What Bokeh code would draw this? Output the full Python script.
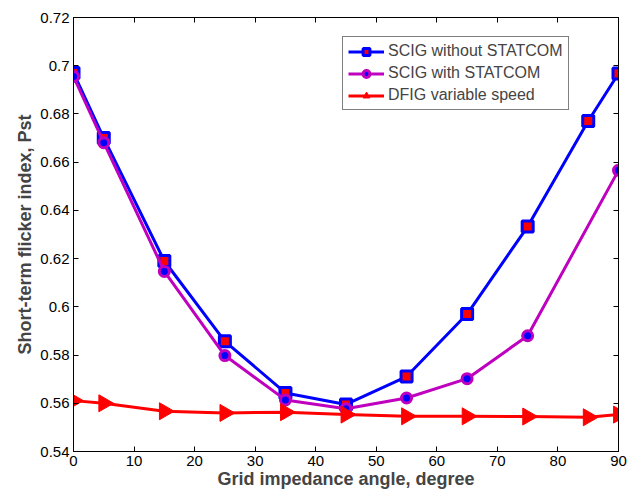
import math
from bokeh.plotting import figure
from bokeh.models import Range1d, FixedTicker, LinearAxis, Legend, LegendItem
from bokeh.embed import file_html
from bokeh.resources import INLINE

angle = [0, 5, 15, 25, 35, 45, 55, 65, 75, 85, 90]
scig_without = [0.697, 0.670, 0.619, 0.5857, 0.5643, 0.5595, 0.5711, 0.5970, 0.6333, 0.6771, 0.6968]
angle_with = [0, 5, 15, 25, 35, 45, 55, 65, 75, 90]
scig_with = [0.6955, 0.6681, 0.6147, 0.5798, 0.5614, 0.5577, 0.5622, 0.5702, 0.5880, 0.6566]
dfig = [0.5611, 0.5600, 0.5567, 0.5560, 0.5563, 0.5553, 0.5546, 0.5546, 0.5545, 0.5542, 0.5553]

x_ticks = [0, 10, 20, 30, 40, 50, 60, 70, 80, 90]
y_ticks = [0.54, 0.56, 0.58, 0.60, 0.62, 0.64, 0.66, 0.68, 0.70, 0.72]
y_labels = ["0.54", "0.56", "0.58", "0.6", "0.62", "0.64", "0.66", "0.68", "0.7", "0.72"]

FONT = "Liberation Sans"

p = figure(width=633, height=494, output_backend="svg", toolbar_location=None,
           x_range=Range1d(0, 90), y_range=Range1d(0.54, 0.72),
           min_border_left=73, min_border_right=15, min_border_top=17, min_border_bottom=43)
p.xgrid.visible = False
p.ygrid.visible = False
p.outline_line_color = "black"
p.outline_line_width = 1
p.background_fill_color = "white"
p.border_fill_color = "white"

def style_axis(ax, ticks, labels=True):
    ax.ticker = FixedTicker(ticks=ticks)
    ax.major_tick_in = 5
    ax.major_tick_out = 0
    ax.minor_tick_line_color = None
    ax.axis_line_color = "black"
    ax.major_tick_line_color = "black"
    ax.major_label_text_font = FONT
    ax.major_label_text_font_size = "15px"
    ax.major_label_text_color = "black" if labels else None
    ax.major_label_standoff = 4

xa = p.xaxis[0]
style_axis(xa, x_ticks)
xa.axis_label = "Grid impedance angle, degree"
xa.axis_label_text_font = FONT
xa.axis_label_text_font_style = "bold"
xa.axis_label_text_font_size = "18px"
xa.axis_label_standoff = 0
xa.major_label_standoff = 4

ya = p.yaxis[0]
style_axis(ya, y_ticks)
ya.major_label_overrides = {t: l for t, l in zip(y_ticks, y_labels)}
ya.axis_label = "Short-term flicker index, Pst"
ya.axis_label_text_font = FONT
ya.axis_label_text_font_style = "bold"
ya.axis_label_text_font_size = "18px"
ya.axis_label_standoff = 2
ya.major_label_standoff = 4

top = LinearAxis()
style_axis(top, x_ticks, labels=False)
top.major_label_text_font_size = "0px"
p.add_layout(top, "above")
right = LinearAxis()
style_axis(right, y_ticks, labels=False)
right.major_label_text_font_size = "0px"
p.add_layout(right, "right")

l1 = p.line(angle, scig_without, line_color="#0000ff", line_width=3)
m1 = p.scatter(angle, scig_without, marker="square", size=11, line_color="#0000ff",
               line_width=3, fill_color="#ff0000")
l2 = p.line(angle_with, scig_with, line_color="#bf00bf", line_width=3)
m2 = p.scatter(angle_with, scig_with, marker="circle", size=10, line_color="#bf00bf",
               line_width=3, fill_color="#0000ff")
l3 = p.line(angle, dfig, line_color="#ff0000", line_width=3)
m3 = p.scatter(angle, dfig, marker="triangle", size=17, angle=-math.pi / 2,
               line_color="#ff0000", fill_color="#ff0000", line_width=1)

legend = Legend(items=[
    LegendItem(label="SCIG without STATCOM", renderers=[l1, m1]),
    LegendItem(label="SCIG with STATCOM", renderers=[l2, m2]),
    LegendItem(label="DFIG variable speed", renderers=[l3, m3]),
], location=(269, 341))
legend.border_line_color = "black"
legend.border_line_width = 1
legend.background_fill_color = "white"
legend.background_fill_alpha = 1
legend.label_text_font = FONT
legend.label_text_font_size = "16px"
legend.glyph_width = 36
legend.glyph_height = 17
legend.spacing = 4
legend.padding = 5
legend.margin = 0
legend.label_standoff = 4
legend.label_height = 17
p.add_layout(legend, "center")

open("out.html", "w").write(file_html(p, INLINE))
